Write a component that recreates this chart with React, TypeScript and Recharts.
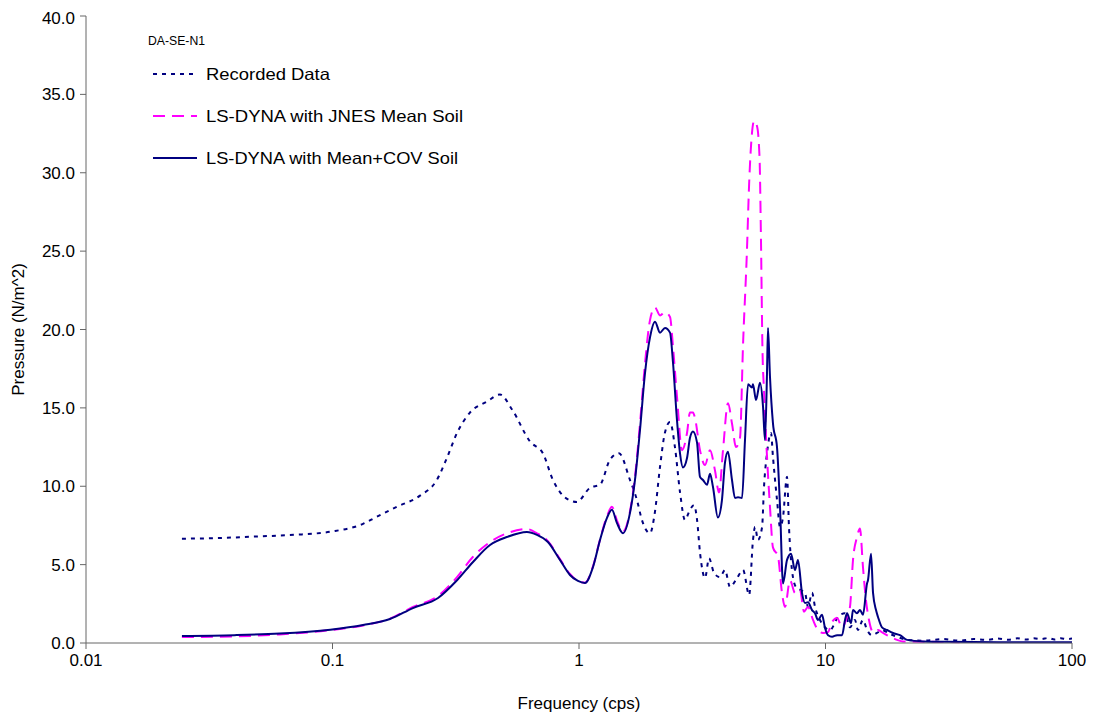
import { LineChart, Line, XAxis, YAxis } from 'recharts';

// Recorded Data
const recordedFreq = [
  0.0245, 0.035, 0.05, 0.07, 0.098, 0.133, 0.149, 0.183, 0.2265, 0.265, 0.291, 0.32, 0.361, 0.423,
  0.478, 0.535, 0.633, 0.714, 0.784, 0.861, 0.919, 0.98, 1.108, 1.217, 1.336, 1.453, 1.61, 1.72,
  1.8, 1.94, 2.03, 2.13, 2.23, 2.34, 2.45, 2.57, 2.69, 2.82, 2.93, 3.01, 3.1, 3.245, 3.37, 3.53,
  3.73, 3.91, 4.1, 4.375, 4.63, 4.9, 5.08, 5.18, 5.32, 5.53, 5.63, 5.79, 6.01, 6.12, 6.36, 6.54,
  6.72, 6.98, 7.11, 7.31, 7.59, 7.88, 8.26, 8.49, 8.82, 9.07, 9.5, 9.95, 10.43, 11.24, 12.0, 12.57,
  13.17, 13.54, 14.19, 14.74, 15.44, 16.18, 16.95, 17.93, 19.5, 21.4, 25, 30, 35, 40, 45, 50, 55,
  60, 65, 70, 75, 80, 85, 90, 95, 100,
];
const recordedP = [
  6.65, 6.7, 6.8, 6.9, 7.1, 7.6, 8.0, 8.7, 9.4, 10.4, 11.8, 13.4, 14.7, 15.4,
  15.85, 14.9, 12.85, 12.1, 10.4, 9.4, 9.1, 9.0, 9.9, 10.1, 11.7, 12.1, 10.4, 9.1,
  7.85, 7.0, 8.3, 11.2, 13.4, 14.1, 12.5, 9.6, 7.85, 8.5, 8.8, 7.9, 5.7, 4.15, 5.4, 4.47,
  4.2, 4.66, 3.57, 4.15, 4.66, 3.06, 6.57, 7.4, 6.57, 7.4, 9.95, 12.1, 13.4, 11.9, 9.1, 7.4,
  8.0, 10.6, 7.4, 4.66, 3.57, 3.4, 3.2, 2.3, 3.2, 2.3, 1.47, 1.0, 0.83, 1.66, 1.9, 1.0,
  1.47, 0.83, 1.47, 0.83, 0.5, 0.64, 0.83, 0.64, 0.4, 0.2, 0.15, 0.25, 0.15, 0.25, 0.2, 0.28, 0.2,
  0.3, 0.22, 0.3, 0.25, 0.32, 0.22, 0.3, 0.25, 0.28,
];

// LS-DYNA with JNES Mean Soil
const jnesFreq = [
  0.0245, 0.04, 0.061, 0.098, 0.133, 0.171, 0.212, 0.268, 0.32, 0.3715, 0.4355, 0.51, 0.615, 0.675,
  0.748, 0.837, 0.919, 0.99, 1.057, 1.14, 1.217, 1.3, 1.36, 1.426, 1.508, 1.61, 1.687, 1.768, 1.852,
  1.941, 2.034, 2.131, 2.233, 2.34, 2.406, 2.498, 2.617, 2.743, 2.82, 2.9, 2.955, 3.096, 3.245,
  3.4, 3.562, 3.698, 3.839, 4.021, 4.175, 4.334, 4.5, 4.628, 4.8, 4.9, 5.03, 5.13, 5.27, 5.4, 5.47,
  5.55, 5.63, 5.79, 5.953, 6.12, 6.42, 6.66, 6.85, 7.18, 7.52, 7.88, 8.18, 8.49, 8.9, 9.32, 9.77,
  10.24, 10.63, 11.14, 11.67, 12.23, 12.57, 12.93, 13.42, 13.8, 14.19, 14.6, 15.01, 15.59, 16.33,
  17.11, 18.27, 19.5, 20.62, 25, 35,
];
const jnesP = [
  0.38, 0.42, 0.55, 0.82, 1.12, 1.55, 2.3, 3.0, 4.2, 5.5, 6.44, 7.0, 7.27, 7.0,
  6.5, 5.35, 4.4, 3.95, 3.85, 4.9, 6.6, 8.1, 8.7, 7.8, 7.1, 8.4, 10.6, 14.0, 17.8,
  20.6, 21.4, 20.9, 21.1, 20.8, 18.9, 15.7, 12.3, 13.4, 14.7, 14.7, 14.35, 12.3, 11.35,
  12.3, 11.0, 9.6, 12.3, 15.3, 14.0, 12.5, 13.1, 19.0, 25.0, 29.3, 32.5, 33.3, 33.0, 31.0, 26.0,
  18.7, 16.1, 11.9, 8.7, 6.1, 5.5, 3.2, 2.3, 4.0, 3.2, 3.4, 2.0, 2.3, 1.47, 0.83, 0.64,
  0.7, 1.34, 1.6, 1.0, 1.66, 2.3, 5.3, 6.76, 7.3, 4.85, 2.7, 1.47, 0.7, 0.83,
  0.64, 0.4, 0.2, 0.1, 0.08, 0.05,
];

// LS-DYNA with Mean+COV Soil
const covFreq = [
  0.0245, 0.04, 0.061, 0.098, 0.133, 0.171, 0.212, 0.268, 0.32, 0.3715, 0.4355, 0.51, 0.615, 0.675,
  0.748, 0.837, 0.919, 0.99, 1.057, 1.14, 1.217, 1.3, 1.36, 1.426, 1.508, 1.61, 1.687, 1.768, 1.852,
  1.941, 2.034, 2.131, 2.233, 2.34, 2.406, 2.498, 2.569, 2.642, 2.743, 2.82, 2.9, 3.011, 3.096,
  3.184, 3.306, 3.4, 3.496, 3.66, 3.8, 3.91, 4.02, 4.175, 4.294, 4.416, 4.585, 4.714, 4.85, 5.033,
  5.08, 5.224, 5.424, 5.578, 5.682, 5.79, 5.844, 5.953, 6.123, 6.357, 6.538, 6.724, 6.981, 7.245,
  7.52, 7.733, 8.028, 8.256, 8.493, 8.815, 9.066, 9.324, 9.679, 9.954, 10.24, 10.63, 11.14, 11.67,
  12.0, 12.23, 12.69, 12.93, 13.42, 13.8, 14.19, 14.74, 14.87, 15.3, 15.59, 16.03, 16.33, 16.95,
  17.76, 18.79, 20.05, 21.41, 25, 30, 40, 60, 100,
];
const covP = [
  0.45, 0.5, 0.6, 0.85, 1.15, 1.53, 2.23, 2.87, 4.0, 5.17, 6.25, 6.76, 7.08, 6.9,
  6.44, 5.3, 4.34, 3.96, 3.83, 4.85, 6.57, 8.0, 8.5, 7.65, 7.0, 8.3, 10.4, 13.6, 17.2,
  19.5, 20.5, 19.8, 20.1, 19.8, 17.9, 14.2, 12.1, 11.2, 11.8, 13.1, 13.5, 12.8, 10.6,
  10.4, 10.1, 10.8, 9.95, 8.0, 9.1, 11.5, 12.2, 10.4, 9.25, 9.3, 9.25, 12.95, 16.5, 16.3,
  16.5, 15.5, 16.6, 15.1, 12.95, 17.2, 20.1, 17.0, 14.0, 12.5, 8.7, 3.8, 5.3, 5.7,
  4.66, 5.3, 3.2, 2.55, 2.6, 2.1, 1.9, 1.47, 1.8, 0.96, 0.5, 0.4, 0.5, 0.5,
  1.47, 1.9, 1.27, 2.1, 1.9, 2.1, 1.8, 3.8, 4.0, 5.7, 3.2, 2.1, 1.66, 1.0,
  0.83, 0.64, 0.5, 0.2, 0.1, 0.08, 0.06, 0.05, 0.05,
];

const xTicks = [0.01, 0.1, 1, 10, 100];
const yTicks = [0, 5, 10, 15, 20, 25, 30, 35, 40];

const zip = (f: number[], p: number[]) => f.map((x, i) => ({ f: x, p: p[i] }));

const recorded = zip(recordedFreq, recordedP);
const jnes = zip(jnesFreq, jnesP);
const cov = zip(covFreq, covP);

const font = 'Arial, "Liberation Sans", sans-serif';
const navy = '#000080';
const magenta = '#FF00FF';
const axisColor = '#666666';

function LegendBox() {
  const rows = [
    { label: 'Recorded Data', color: navy, dash: '4 5', y: 66, w: 124 },
    { label: 'LS-DYNA with JNES Mean Soil', color: magenta, dash: '12 7', y: 108, w: 257 },
    { label: 'LS-DYNA with Mean+COV Soil', color: navy, dash: undefined, y: 150, w: 252 },
  ];
  return (
    <svg
      width={520}
      height={180}
      style={{ position: 'absolute', left: 0, top: 0, pointerEvents: 'none' }}
    >
      <text x={140} y={37} fontFamily={font} fontSize={13} fill="#000" textLength={57} lengthAdjust="spacingAndGlyphs">
        DA-SE-N1
      </text>
      {rows.map((r) => (
        <g key={r.label}>
          <line x1={145} x2={189} y1={r.y} y2={r.y} stroke={r.color} strokeWidth={2} strokeDasharray={r.dash} />
          <text
            x={198}
            y={r.y + 6}
            fontFamily={font}
            fontSize={16.5}
            fill="#000"
            textLength={r.w}
            lengthAdjust="spacingAndGlyphs"
          >
            {r.label}
          </text>
        </g>
      ))}
    </svg>
  );
}

export default function App() {
  return (
    <div style={{ position: 'relative', width: 1080, height: 711, fontFamily: font }}>
      <LineChart width={1080} height={711} margin={{ top: 8, right: 16, left: 0, bottom: 0 }}>
        <XAxis
          dataKey="f"
          type="number"
          scale="log"
          domain={[0.01, 100]}
          ticks={xTicks}
          allowDataOverflow
          height={76}
          tickSize={6}
          tickMargin={5}
          tickFormatter={(v: number) => String(v)}
          tick={{ fill: '#000', fontSize: 17, fontFamily: font }}
          stroke={axisColor}
          label={{ value: 'Frequency (cps)', position: 'insideBottom', offset: 10, fill: '#000', fontSize: 17, fontFamily: font }}
        />
        <YAxis
          dataKey="p"
          type="number"
          domain={[0, 40]}
          ticks={yTicks}
          width={78}
          tickSize={6}
          tickMargin={5}
          tickFormatter={(v: number) => v.toFixed(1)}
          tick={{ fill: '#000', fontSize: 17, fontFamily: font }}
          stroke={axisColor}
          label={{
            value: 'Pressure (N/m^2)',
            angle: -90,
            position: 'insideLeft',
            offset: 10,
            fill: '#000',
            fontSize: 17,
            fontFamily: font,
            style: { textAnchor: 'middle' },
          }}
        />
        <Line
          data={recorded}
          dataKey="p"
          type="monotone"
          stroke={navy}
          strokeWidth={2}
          strokeDasharray="4 5"
          dot={false}
          activeDot={false}
          isAnimationActive={false}
        />
        <Line
          data={jnes}
          dataKey="p"
          type="monotone"
          stroke={magenta}
          strokeWidth={2}
          strokeDasharray="12 7"
          dot={false}
          activeDot={false}
          isAnimationActive={false}
        />
        <Line
          data={cov}
          dataKey="p"
          type="monotone"
          stroke={navy}
          strokeWidth={2}
          dot={false}
          activeDot={false}
          isAnimationActive={false}
        />
      </LineChart>
      <LegendBox />
    </div>
  );
}
